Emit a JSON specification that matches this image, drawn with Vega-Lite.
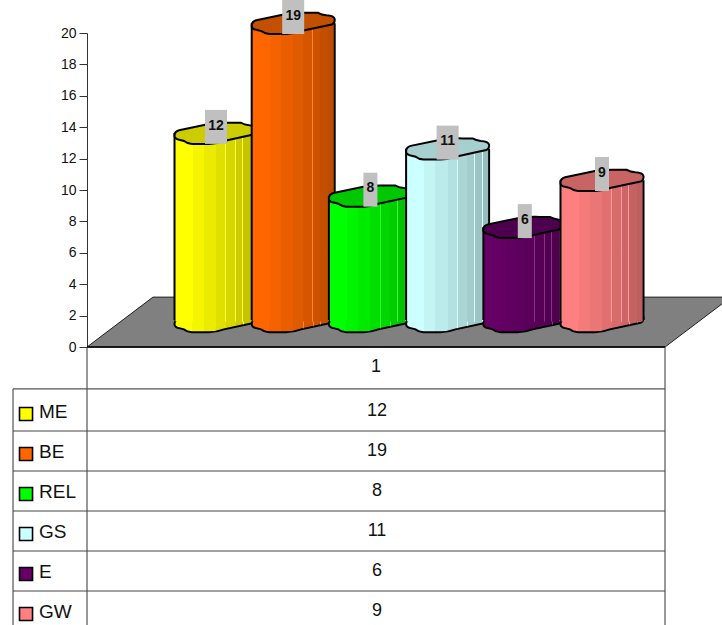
{
"$schema":"https://vega.github.io/schema/vega-lite/v6.json",
"width":578,"height":625,"autosize":"none","padding":{"left":87,"top":0,"right":57,"bottom":0},
"background":"white",
"config":{"view":{"stroke":null},
 "style":{"shade":{"color":{"gradient":"linear","x1":0,"x2":1,"y1":0,"y2":0,"stops":[
  {"offset":0,"color":"rgba(0,0,0,0)"},{"offset":0.21,"color":"rgba(0,0,0,0)"},
  {"offset":0.21,"color":"rgba(0,0,0,0.04)"},{"offset":0.35,"color":"rgba(0,0,0,0.04)"},
  {"offset":0.35,"color":"rgba(0,0,0,0.08)"},{"offset":0.5,"color":"rgba(0,0,0,0.08)"},
  {"offset":0.5,"color":"rgba(0,0,0,0.12)"},{"offset":0.617,"color":"rgba(0,0,0,0.12)"},
  {"offset":0.617,"color":"rgba(255,255,255,0.2)"},{"offset":0.625,"color":"rgba(255,255,255,0.2)"},
  {"offset":0.625,"color":"rgba(0,0,0,0.16)"},{"offset":0.737,"color":"rgba(0,0,0,0.16)"},
  {"offset":0.737,"color":"rgba(255,255,255,0.2)"},{"offset":0.745,"color":"rgba(255,255,255,0.2)"},
  {"offset":0.745,"color":"rgba(0,0,0,0.2)"},{"offset":0.827,"color":"rgba(0,0,0,0.2)"},
  {"offset":0.827,"color":"rgba(255,255,255,0.2)"},{"offset":0.835,"color":"rgba(255,255,255,0.2)"},
  {"offset":0.835,"color":"rgba(0,0,0,0.23)"},{"offset":0.927,"color":"rgba(0,0,0,0.23)"},
  {"offset":0.927,"color":"rgba(255,255,255,0.2)"},{"offset":0.935,"color":"rgba(255,255,255,0.2)"},
  {"offset":0.935,"color":"rgba(0,0,0,0.26)"},{"offset":1,"color":"rgba(0,0,0,0.26)"}]}}}},
"data":{"values":[
 {"series":"ME","value":12},{"series":"BE","value":19},{"series":"REL","value":8},
 {"series":"GS","value":11},{"series":"E","value":6},{"series":"GW","value":9}]},
"resolve":{"scale":{"x":"independent","y":"independent"},"axis":{"y":"independent"}},
"layer":[
 {"data":{"values":[{"part":"frame"}]},
  "resolve":{"axis":{"y":"independent"}},
  "layer":[
  {"mark":{"type":"point","filled":true,"opacity":1,"fill":"#808080","stroke":"#222","strokeWidth":1,"size":414736,
    "shape":"M-1,0.0776L-0.795,-0.0776L1,-0.0776L0.795,0.0776Z"},
   "encoding":{
    "x":{"datum":0.557,"type":"quantitative","axis":null,"scale":{"type":"linear","domain":[0,1],"range":[0,578],"nice":false,"zero":false}},
    "y":{"datum":1.586,"type":"quantitative","scale":{"type":"linear","domain":[0,20],"range":[347,33],"nice":false,"zero":false},
     "axis":{"values":[0,2,4,6,8,10,12,14,16,18,20],"title":null,"grid":false,"tickSize":8,"tickColor":"#333","domainColor":"#333","labelFont":"Liberation Sans","labelFontSize":14,"labelColor":"#111","labelPadding":3}}}},
  {"mark":{"type":"rule","stroke":"#000","strokeWidth":1.6},
   "encoding":{"x":{"datum":0,"type":"quantitative","axis":null},"x2":{"datum":1},"y":{"datum":0,"type":"quantitative","axis":null}}},
  {"mark":{"type":"rule","stroke":"#333","strokeWidth":1},
   "encoding":{"x":{"datum":0,"type":"quantitative","axis":null},"y":{"datum":0,"type":"quantitative","axis":null},"y2":{"datum":-18}}},
  {"mark":{"type":"rule","stroke":"#333","strokeWidth":1},
   "encoding":{"x":{"datum":1,"type":"quantitative","axis":null},"y":{"datum":0,"type":"quantitative","axis":null},"y2":{"datum":-18}}},
  {"mark":{"type":"rule","stroke":"#333","strokeWidth":1},
   "encoding":{"x":{"datum":-0.128,"type":"quantitative","axis":null},"y":{"datum":-2.67,"type":"quantitative","axis":null},"y2":{"datum":-18}}},
  {"mark":{"type":"rule","stroke":"#555","strokeWidth":1.4},
   "encoding":{"x":{"datum":-0.128,"type":"quantitative","axis":null},"x2":{"datum":1},"y":{"datum":-2.67,"type":"quantitative","axis":null}}},
  {"mark":{"type":"text","text":"1","font":"Liberation Sans","fontSize":18,"color":"#111","baseline":"middle"},
   "encoding":{"x":{"datum":0.5,"type":"quantitative","axis":null},"y":{"datum":-1.28,"type":"quantitative","axis":null}}}
 ]},
 {"encoding":{"x":{"field":"series","type":"nominal","axis":null,"sort":null,"scale":{"type":"band","domain":["ME","BE","REL","GS","E","GW"],"range":[90.4,553.6],"padding":0}}},
  "layer":[
  {"transform":[{"filter":"datum.series==='ME'"}],"layer":[
   {"mark":{"type":"point","filled":true,"opacity":1,"stroke":"#000","strokeWidth":2,"size":6889,"yOffset":-25.5,"shape":"M-1,0.06Q-1,-0.04 -0.89,-0.07L-0.17,-0.22Q0.1,-0.26 0.36,-0.25L0.6,-0.25Q0.68,-0.2 0.8,-0.19Q0.98,-0.18 1,-0.1Q1.01,0 0.93,0.03L0.19,0.19Q0,0.26 -0.17,0.26L-0.58,0.26Q-0.7,0.25 -0.77,0.19L-0.89,0.16Q-1,0.14 -1,0.06Z"},"encoding":{"y":{"datum":0,"type":"quantitative","axis":null,"scale":{"type":"linear","domain":[0,20],"range":[347,33],"nice":false,"zero":false}},"color":{"value":"#ffff00"}}},
   {"mark":{"type":"point","filled":true,"opacity":1,"style":"shade","size":6889,"yOffset":-25.5,"shape":"M-1,0.06Q-1,-0.04 -0.89,-0.07L-0.17,-0.22Q0.1,-0.26 0.36,-0.25L0.6,-0.25Q0.68,-0.2 0.8,-0.19Q0.98,-0.18 1,-0.1Q1.01,0 0.93,0.03L0.19,0.19Q0,0.26 -0.17,0.26L-0.58,0.26Q-0.7,0.25 -0.77,0.19L-0.89,0.16Q-1,0.14 -1,0.06Z"},"encoding":{"y":{"datum":0,"type":"quantitative","axis":null}}},
   {"mark":{"type":"bar","size":85,"fill":"#000","yOffset":-25.5,"y2Offset":-27},"encoding":{"y":{"field":"value","type":"quantitative","axis":null,"stack":null},"y2":{"datum":0}}},
   {"mark":{"type":"bar","size":81,"fill":"#ffff00","yOffset":-25.5,"y2Offset":-25.5},"encoding":{"y":{"field":"value","type":"quantitative","axis":null,"stack":null},"y2":{"datum":0}}},
   {"mark":{"type":"bar","size":81,"style":"shade","yOffset":-25.5,"y2Offset":-25.5},"encoding":{"y":{"field":"value","type":"quantitative","axis":null,"stack":null},"y2":{"datum":0}}},
   {"mark":{"type":"point","filled":true,"opacity":1,"fill":"#cccc00","stroke":"#000","strokeWidth":2,"size":6889,"yOffset":-25.5,"shape":"M-1,0.06Q-1,-0.04 -0.89,-0.07L-0.17,-0.22Q0.1,-0.26 0.36,-0.25L0.6,-0.25Q0.68,-0.2 0.8,-0.19Q0.98,-0.18 1,-0.1Q1.01,0 0.93,0.03L0.19,0.19Q0,0.26 -0.17,0.26L-0.58,0.26Q-0.7,0.25 -0.77,0.19L-0.89,0.16Q-1,0.14 -1,0.06Z"},"encoding":{"y":{"field":"value","type":"quantitative","axis":null}}}
  ]},
  {"transform":[{"filter":"datum.series==='BE'"}],"layer":[
   {"mark":{"type":"point","filled":true,"opacity":1,"stroke":"#000","strokeWidth":2,"size":6889,"yOffset":-25.5,"shape":"M-1,0.06Q-1,-0.04 -0.89,-0.07L-0.17,-0.22Q0.1,-0.26 0.36,-0.25L0.6,-0.25Q0.68,-0.2 0.8,-0.19Q0.98,-0.18 1,-0.1Q1.01,0 0.93,0.03L0.19,0.19Q0,0.26 -0.17,0.26L-0.58,0.26Q-0.7,0.25 -0.77,0.19L-0.89,0.16Q-1,0.14 -1,0.06Z"},"encoding":{"y":{"datum":0,"type":"quantitative","axis":null},"color":{"value":"#ff6600"}}},
   {"mark":{"type":"point","filled":true,"opacity":1,"style":"shade","size":6889,"yOffset":-25.5,"shape":"M-1,0.06Q-1,-0.04 -0.89,-0.07L-0.17,-0.22Q0.1,-0.26 0.36,-0.25L0.6,-0.25Q0.68,-0.2 0.8,-0.19Q0.98,-0.18 1,-0.1Q1.01,0 0.93,0.03L0.19,0.19Q0,0.26 -0.17,0.26L-0.58,0.26Q-0.7,0.25 -0.77,0.19L-0.89,0.16Q-1,0.14 -1,0.06Z"},"encoding":{"y":{"datum":0,"type":"quantitative","axis":null}}},
   {"mark":{"type":"bar","size":85,"fill":"#000","yOffset":-25.5,"y2Offset":-27},"encoding":{"y":{"field":"value","type":"quantitative","axis":null,"stack":null},"y2":{"datum":0}}},
   {"mark":{"type":"bar","size":81,"fill":"#ff6600","yOffset":-25.5,"y2Offset":-25.5},"encoding":{"y":{"field":"value","type":"quantitative","axis":null,"stack":null},"y2":{"datum":0}}},
   {"mark":{"type":"bar","size":81,"style":"shade","yOffset":-25.5,"y2Offset":-25.5},"encoding":{"y":{"field":"value","type":"quantitative","axis":null,"stack":null},"y2":{"datum":0}}},
   {"mark":{"type":"point","filled":true,"opacity":1,"fill":"#c25000","stroke":"#000","strokeWidth":2,"size":6889,"yOffset":-25.5,"shape":"M-1,0.06Q-1,-0.04 -0.89,-0.07L-0.17,-0.22Q0.1,-0.26 0.36,-0.25L0.6,-0.25Q0.68,-0.2 0.8,-0.19Q0.98,-0.18 1,-0.1Q1.01,0 0.93,0.03L0.19,0.19Q0,0.26 -0.17,0.26L-0.58,0.26Q-0.7,0.25 -0.77,0.19L-0.89,0.16Q-1,0.14 -1,0.06Z"},"encoding":{"y":{"field":"value","type":"quantitative","axis":null}}}
  ]},
  {"transform":[{"filter":"datum.series==='REL'"}],"layer":[
   {"mark":{"type":"point","filled":true,"opacity":1,"stroke":"#000","strokeWidth":2,"size":6889,"yOffset":-25.5,"shape":"M-1,0.06Q-1,-0.04 -0.89,-0.07L-0.17,-0.22Q0.1,-0.26 0.36,-0.25L0.6,-0.25Q0.68,-0.2 0.8,-0.19Q0.98,-0.18 1,-0.1Q1.01,0 0.93,0.03L0.19,0.19Q0,0.26 -0.17,0.26L-0.58,0.26Q-0.7,0.25 -0.77,0.19L-0.89,0.16Q-1,0.14 -1,0.06Z"},"encoding":{"y":{"datum":0,"type":"quantitative","axis":null},"color":{"value":"#00ff00"}}},
   {"mark":{"type":"point","filled":true,"opacity":1,"style":"shade","size":6889,"yOffset":-25.5,"shape":"M-1,0.06Q-1,-0.04 -0.89,-0.07L-0.17,-0.22Q0.1,-0.26 0.36,-0.25L0.6,-0.25Q0.68,-0.2 0.8,-0.19Q0.98,-0.18 1,-0.1Q1.01,0 0.93,0.03L0.19,0.19Q0,0.26 -0.17,0.26L-0.58,0.26Q-0.7,0.25 -0.77,0.19L-0.89,0.16Q-1,0.14 -1,0.06Z"},"encoding":{"y":{"datum":0,"type":"quantitative","axis":null}}},
   {"mark":{"type":"bar","size":85,"fill":"#000","yOffset":-25.5,"y2Offset":-27},"encoding":{"y":{"field":"value","type":"quantitative","axis":null,"stack":null},"y2":{"datum":0}}},
   {"mark":{"type":"bar","size":81,"fill":"#00ff00","yOffset":-25.5,"y2Offset":-25.5},"encoding":{"y":{"field":"value","type":"quantitative","axis":null,"stack":null},"y2":{"datum":0}}},
   {"mark":{"type":"bar","size":81,"style":"shade","yOffset":-25.5,"y2Offset":-25.5},"encoding":{"y":{"field":"value","type":"quantitative","axis":null,"stack":null},"y2":{"datum":0}}},
   {"mark":{"type":"point","filled":true,"opacity":1,"fill":"#00c800","stroke":"#000","strokeWidth":2,"size":6889,"yOffset":-25.5,"shape":"M-1,0.06Q-1,-0.04 -0.89,-0.07L-0.17,-0.22Q0.1,-0.26 0.36,-0.25L0.6,-0.25Q0.68,-0.2 0.8,-0.19Q0.98,-0.18 1,-0.1Q1.01,0 0.93,0.03L0.19,0.19Q0,0.26 -0.17,0.26L-0.58,0.26Q-0.7,0.25 -0.77,0.19L-0.89,0.16Q-1,0.14 -1,0.06Z"},"encoding":{"y":{"field":"value","type":"quantitative","axis":null}}}
  ]},
  {"transform":[{"filter":"datum.series==='GS'"}],"layer":[
   {"mark":{"type":"point","filled":true,"opacity":1,"stroke":"#000","strokeWidth":2,"size":6889,"yOffset":-25.5,"shape":"M-1,0.06Q-1,-0.04 -0.89,-0.07L-0.17,-0.22Q0.1,-0.26 0.36,-0.25L0.6,-0.25Q0.68,-0.2 0.8,-0.19Q0.98,-0.18 1,-0.1Q1.01,0 0.93,0.03L0.19,0.19Q0,0.26 -0.17,0.26L-0.58,0.26Q-0.7,0.25 -0.77,0.19L-0.89,0.16Q-1,0.14 -1,0.06Z"},"encoding":{"y":{"datum":0,"type":"quantitative","axis":null},"color":{"value":"#ccffff"}}},
   {"mark":{"type":"point","filled":true,"opacity":1,"style":"shade","size":6889,"yOffset":-25.5,"shape":"M-1,0.06Q-1,-0.04 -0.89,-0.07L-0.17,-0.22Q0.1,-0.26 0.36,-0.25L0.6,-0.25Q0.68,-0.2 0.8,-0.19Q0.98,-0.18 1,-0.1Q1.01,0 0.93,0.03L0.19,0.19Q0,0.26 -0.17,0.26L-0.58,0.26Q-0.7,0.25 -0.77,0.19L-0.89,0.16Q-1,0.14 -1,0.06Z"},"encoding":{"y":{"datum":0,"type":"quantitative","axis":null}}},
   {"mark":{"type":"bar","size":85,"fill":"#000","yOffset":-25.5,"y2Offset":-27},"encoding":{"y":{"field":"value","type":"quantitative","axis":null,"stack":null},"y2":{"datum":0}}},
   {"mark":{"type":"bar","size":81,"fill":"#ccffff","yOffset":-25.5,"y2Offset":-25.5},"encoding":{"y":{"field":"value","type":"quantitative","axis":null,"stack":null},"y2":{"datum":0}}},
   {"mark":{"type":"bar","size":81,"style":"shade","yOffset":-25.5,"y2Offset":-25.5},"encoding":{"y":{"field":"value","type":"quantitative","axis":null,"stack":null},"y2":{"datum":0}}},
   {"mark":{"type":"point","filled":true,"opacity":1,"fill":"#a6cfcf","stroke":"#000","strokeWidth":2,"size":6889,"yOffset":-25.5,"shape":"M-1,0.06Q-1,-0.04 -0.89,-0.07L-0.17,-0.22Q0.1,-0.26 0.36,-0.25L0.6,-0.25Q0.68,-0.2 0.8,-0.19Q0.98,-0.18 1,-0.1Q1.01,0 0.93,0.03L0.19,0.19Q0,0.26 -0.17,0.26L-0.58,0.26Q-0.7,0.25 -0.77,0.19L-0.89,0.16Q-1,0.14 -1,0.06Z"},"encoding":{"y":{"field":"value","type":"quantitative","axis":null}}}
  ]},
  {"transform":[{"filter":"datum.series==='E'"}],"layer":[
   {"mark":{"type":"point","filled":true,"opacity":1,"stroke":"#000","strokeWidth":2,"size":6889,"yOffset":-25.5,"shape":"M-1,0.06Q-1,-0.04 -0.89,-0.07L-0.17,-0.22Q0.1,-0.26 0.36,-0.25L0.6,-0.25Q0.68,-0.2 0.8,-0.19Q0.98,-0.18 1,-0.1Q1.01,0 0.93,0.03L0.19,0.19Q0,0.26 -0.17,0.26L-0.58,0.26Q-0.7,0.25 -0.77,0.19L-0.89,0.16Q-1,0.14 -1,0.06Z"},"encoding":{"y":{"datum":0,"type":"quantitative","axis":null},"color":{"value":"#660066"}}},
   {"mark":{"type":"point","filled":true,"opacity":1,"style":"shade","size":6889,"yOffset":-25.5,"shape":"M-1,0.06Q-1,-0.04 -0.89,-0.07L-0.17,-0.22Q0.1,-0.26 0.36,-0.25L0.6,-0.25Q0.68,-0.2 0.8,-0.19Q0.98,-0.18 1,-0.1Q1.01,0 0.93,0.03L0.19,0.19Q0,0.26 -0.17,0.26L-0.58,0.26Q-0.7,0.25 -0.77,0.19L-0.89,0.16Q-1,0.14 -1,0.06Z"},"encoding":{"y":{"datum":0,"type":"quantitative","axis":null}}},
   {"mark":{"type":"bar","size":85,"fill":"#000","yOffset":-25.5,"y2Offset":-27},"encoding":{"y":{"field":"value","type":"quantitative","axis":null,"stack":null},"y2":{"datum":0}}},
   {"mark":{"type":"bar","size":81,"fill":"#660066","yOffset":-25.5,"y2Offset":-25.5},"encoding":{"y":{"field":"value","type":"quantitative","axis":null,"stack":null},"y2":{"datum":0}}},
   {"mark":{"type":"bar","size":81,"style":"shade","yOffset":-25.5,"y2Offset":-25.5},"encoding":{"y":{"field":"value","type":"quantitative","axis":null,"stack":null},"y2":{"datum":0}}},
   {"mark":{"type":"point","filled":true,"opacity":1,"fill":"#4d004d","stroke":"#000","strokeWidth":2,"size":6889,"yOffset":-25.5,"shape":"M-1,0.06Q-1,-0.04 -0.89,-0.07L-0.17,-0.22Q0.1,-0.26 0.36,-0.25L0.6,-0.25Q0.68,-0.2 0.8,-0.19Q0.98,-0.18 1,-0.1Q1.01,0 0.93,0.03L0.19,0.19Q0,0.26 -0.17,0.26L-0.58,0.26Q-0.7,0.25 -0.77,0.19L-0.89,0.16Q-1,0.14 -1,0.06Z"},"encoding":{"y":{"field":"value","type":"quantitative","axis":null}}}
  ]},
  {"transform":[{"filter":"datum.series==='GW'"}],"layer":[
   {"mark":{"type":"point","filled":true,"opacity":1,"stroke":"#000","strokeWidth":2,"size":6889,"yOffset":-25.5,"shape":"M-1,0.06Q-1,-0.04 -0.89,-0.07L-0.17,-0.22Q0.1,-0.26 0.36,-0.25L0.6,-0.25Q0.68,-0.2 0.8,-0.19Q0.98,-0.18 1,-0.1Q1.01,0 0.93,0.03L0.19,0.19Q0,0.26 -0.17,0.26L-0.58,0.26Q-0.7,0.25 -0.77,0.19L-0.89,0.16Q-1,0.14 -1,0.06Z"},"encoding":{"y":{"datum":0,"type":"quantitative","axis":null},"color":{"value":"#ff8080"}}},
   {"mark":{"type":"point","filled":true,"opacity":1,"style":"shade","size":6889,"yOffset":-25.5,"shape":"M-1,0.06Q-1,-0.04 -0.89,-0.07L-0.17,-0.22Q0.1,-0.26 0.36,-0.25L0.6,-0.25Q0.68,-0.2 0.8,-0.19Q0.98,-0.18 1,-0.1Q1.01,0 0.93,0.03L0.19,0.19Q0,0.26 -0.17,0.26L-0.58,0.26Q-0.7,0.25 -0.77,0.19L-0.89,0.16Q-1,0.14 -1,0.06Z"},"encoding":{"y":{"datum":0,"type":"quantitative","axis":null}}},
   {"mark":{"type":"bar","size":85,"fill":"#000","yOffset":-25.5,"y2Offset":-27},"encoding":{"y":{"field":"value","type":"quantitative","axis":null,"stack":null},"y2":{"datum":0}}},
   {"mark":{"type":"bar","size":81,"fill":"#ff8080","yOffset":-25.5,"y2Offset":-25.5},"encoding":{"y":{"field":"value","type":"quantitative","axis":null,"stack":null},"y2":{"datum":0}}},
   {"mark":{"type":"bar","size":81,"style":"shade","yOffset":-25.5,"y2Offset":-25.5},"encoding":{"y":{"field":"value","type":"quantitative","axis":null,"stack":null},"y2":{"datum":0}}},
   {"mark":{"type":"point","filled":true,"opacity":1,"fill":"#c86464","stroke":"#000","strokeWidth":2,"size":6889,"yOffset":-25.5,"shape":"M-1,0.06Q-1,-0.04 -0.89,-0.07L-0.17,-0.22Q0.1,-0.26 0.36,-0.25L0.6,-0.25Q0.68,-0.2 0.8,-0.19Q0.98,-0.18 1,-0.1Q1.01,0 0.93,0.03L0.19,0.19Q0,0.26 -0.17,0.26L-0.58,0.26Q-0.7,0.25 -0.77,0.19L-0.89,0.16Q-1,0.14 -1,0.06Z"},"encoding":{"y":{"field":"value","type":"quantitative","axis":null}}}
  ]},
  {"mark":{"type":"point","filled":true,"opacity":1,"color":"#c0c0c0","size":1156,"yOffset":-31.7},
   "encoding":{"y":{"field":"value","type":"quantitative","axis":null},
    "shape":{"condition":{"test":"datum.value>=10","value":"M-0.647,-1H0.647V1H-0.647Z"},"value":"M-0.412,-1H0.412V1H-0.412Z"}}},
  {"mark":{"type":"text","font":"Liberation Sans","fontSize":14,"fontWeight":"bold","color":"#111","baseline":"middle","yOffset":-33},
   "encoding":{"y":{"field":"value","type":"quantitative","axis":null},"text":{"field":"value","type":"quantitative"}}}
 ]},
 {"encoding":{"y":{"field":"series","type":"nominal","axis":null,"sort":null,"scale":{"type":"band","domain":["ME","BE","REL","GS","E","GW"],"range":[391,631],"padding":0}}},
  "layer":[
  {"mark":{"type":"rule","stroke":"#444","strokeWidth":1},
   "encoding":{"y":{"field":"series","type":"nominal","axis":null,"sort":null,"bandPosition":1},
    "x":{"datum":-0.128,"type":"quantitative","axis":null,"scale":{"type":"linear","domain":[0,1],"range":[0,578],"nice":false,"zero":false}},"x2":{"datum":1}}},
  {"mark":{"type":"point","shape":"square","filled":true,"opacity":1,"size":170,"stroke":"#000","strokeWidth":1.6,"yOffset":3},
   "encoding":{"x":{"datum":-0.1055,"type":"quantitative","axis":null},
    "color":{"field":"series","type":"nominal","legend":null,"scale":{"domain":["ME","BE","REL","GS","E","GW"],"range":["#ffff00","#ff6600","#00ff00","#ccffff","#660066","#ff8080"]}}}},
  {"mark":{"type":"text","font":"Liberation Sans","fontSize":19,"color":"#111","align":"left","baseline":"middle","dy":1},
   "encoding":{"x":{"datum":-0.083,"type":"quantitative","axis":null},"text":{"field":"series","type":"nominal"}}},
  {"mark":{"type":"text","font":"Liberation Sans","fontSize":18,"color":"#111","baseline":"middle","dx":1},
   "encoding":{"x":{"datum":0.5,"type":"quantitative","axis":null},"text":{"field":"value","type":"quantitative"}}}
 ]}
]}
